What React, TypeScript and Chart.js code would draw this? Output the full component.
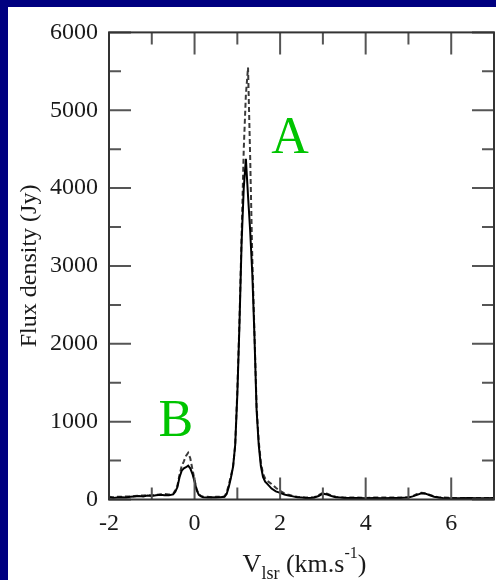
import React, { useEffect, useRef } from "react";
import { Chart, registerables } from "chart.js";

Chart.register(...registerables);

// ---- data ----
const velocities = [
  -2.0, -1.9, -1.8, -1.7, -1.6, -1.5, -1.4, -1.3, -1.2, -1.1,
  -1.0, -0.9, -0.8, -0.7, -0.6, -0.5, -0.45, -0.4, -0.35, -0.3,
  -0.25, -0.2, -0.15, -0.1, -0.05, 0.0, 0.05, 0.1, 0.15, 0.2,
  0.3, 0.4, 0.5, 0.6, 0.7, 0.75, 0.8, 0.85, 0.9, 0.95,
  1.0, 1.05, 1.1, 1.15, 1.2, 1.25, 1.3, 1.35, 1.4, 1.45,
  1.5, 1.55, 1.6, 1.65, 1.7, 1.8, 1.9, 2.0, 2.1, 2.2,
  2.3, 2.4, 2.5, 2.6, 2.7, 2.8, 2.9, 3.0, 3.1, 3.2,
  3.3, 3.4, 3.5, 3.6, 3.8, 4.0, 4.2, 4.4, 4.6, 4.8,
  5.0, 5.1, 5.2, 5.3, 5.4, 5.5, 5.6, 5.7, 5.8, 6.0,
  6.2, 6.4, 6.6, 6.8, 7.0,
];

const fluxSolid = [
  25, 20, 25, 30, 25, 35, 40, 45, 40, 50,
  45, 55, 60, 55, 55, 65, 100, 160, 290, 370,
  400, 415, 435, 400, 330, 230, 120, 60, 40, 30,
  25, 30, 25, 30, 35, 70, 160, 280, 420, 700,
  1350, 2250, 3300, 4000, 4375, 3900, 3450, 2900, 2100, 1150,
  700, 430, 290, 230, 200, 140, 105, 85, 65, 50,
  40, 30, 25, 20, 20, 25, 45, 75, 65, 45,
  30, 25, 20, 20, 20, 15, 20, 15, 20, 20,
  25, 40, 60, 80, 75, 55, 35, 25, 20, 15,
  15, 20, 15, 15, 20,
];

const fluxDashed = [
  35, 30, 35, 35, 40, 40, 45, 50, 50, 55,
  55, 60, 65, 70, 65, 75, 120, 180, 320, 430,
  490, 560, 600, 530, 390, 250, 130, 70, 45, 35,
  35, 30, 35, 35, 40, 90, 190, 300, 420, 700,
  1400, 2300, 3400, 4500, 5200, 5550, 4400, 3100, 2150, 1200,
  750, 480, 330, 270, 240, 200, 150, 110, 80, 60,
  45, 35, 30, 25, 25, 30, 55, 85, 75, 50,
  35, 30, 25, 25, 25, 20, 25, 25, 25, 25,
  30, 45, 70, 85, 80, 60, 40, 30, 25, 20,
  20, 20, 20, 20, 20,
];

const xTickValues = [-2, 0, 2, 4, 6];
const xMinorTicks = [-1, 1, 3, 5];
const yTickValues = [0, 1000, 2000, 3000, 4000, 5000, 6000];
const yMinorTicks = [500, 1500, 2500, 3500, 4500, 5500];

const peakLabels = ["A", "B"];
const peakLabelX = [1.79, -0.84];
const peakLabelY = [4447, 811];

const yTitle = "Flux density (Jy)";
const xTitleMain = "V";
const xTitleSub = "lsr";
const xTitleMid = " (km.s";
const xTitleSup = "-1";
const xTitleEnd = ")";

const SERIF = "'Liberation Serif', 'Times New Roman', serif";

const framePlugin = {
  id: "framePlugin",
  beforeDraw(chart: any) {
    const { ctx, width, height } = chart;
    ctx.save();
    ctx.fillStyle = "#ffffff";
    ctx.fillRect(0, 0, width, height);
    ctx.restore();
  },
  afterDatasetsDraw(chart: any) {
    const { ctx, chartArea: a, scales } = chart;
    const x = scales.x;
    const y = scales.y;
    ctx.save();
    ctx.strokeStyle = "#555555";
    ctx.lineWidth = 2;
    const major = 22;
    const minor = 12;
    const drawX = (v: number, len: number) => {
      const px = x.getPixelForValue(v);
      ctx.beginPath();
      ctx.moveTo(px, a.bottom);
      ctx.lineTo(px, a.bottom - len);
      ctx.moveTo(px, a.top);
      ctx.lineTo(px, a.top + len);
      ctx.stroke();
    };
    const drawY = (v: number, len: number) => {
      const py = y.getPixelForValue(v);
      ctx.beginPath();
      ctx.moveTo(a.left, py);
      ctx.lineTo(a.left + len, py);
      ctx.moveTo(a.right, py);
      ctx.lineTo(a.right - len, py);
      ctx.stroke();
    };
    x.ticks.forEach((t: any) => drawX(t.value, major));
    xMinorTicks.forEach((v) => drawX(v, minor));
    y.ticks.forEach((t: any) => drawY(t.value, major));
    yMinorTicks.forEach((v) => drawY(v, minor));
    ctx.strokeStyle = "#333333";
    ctx.lineWidth = 2;
    ctx.strokeRect(a.left, a.top, a.right - a.left, a.bottom - a.top);
    ctx.restore();
  },
  afterDraw(chart: any) {
    const { ctx, chartArea: a, scales } = chart;
    const x = scales.x;
    const y = scales.y;
    ctx.save();
    ctx.fillStyle = "#00c400";
    ctx.font = `52px ${SERIF}`;
    ctx.textAlign = "left";
    ctx.textBaseline = "alphabetic";
    peakLabels.forEach((lab, i) => {
      ctx.fillText(lab, x.getPixelForValue(peakLabelX[i]), y.getPixelForValue(peakLabelY[i]));
    });

    ctx.fillStyle = "#1a1a1a";
    ctx.save();
    ctx.translate(28, (a.top + a.bottom) / 2);
    ctx.rotate(-Math.PI / 2);
    ctx.font = `24px ${SERIF}`;
    ctx.textAlign = "center";
    ctx.textBaseline = "alphabetic";
    ctx.fillText(yTitle, 0, 0);
    ctx.restore();

    const mainFont = `26px ${SERIF}`;
    const subFont = `18px ${SERIF}`;
    const supFont = `16px ${SERIF}`;
    const parts = [
      { t: xTitleMain, f: mainFont, dy: 0 },
      { t: xTitleSub, f: subFont, dy: 7 },
      { t: xTitleMid, f: mainFont, dy: 0 },
      { t: xTitleSup, f: supFont, dy: -14 },
      { t: xTitleEnd, f: mainFont, dy: 0 },
    ];
    let total = 0;
    const widths = parts.map((p) => {
      ctx.font = p.f;
      const w = ctx.measureText(p.t).width;
      total += w;
      return w;
    });
    let cx = (a.left + a.right) / 2 - total / 2 + 3;
    const base = 565;
    ctx.textAlign = "left";
    ctx.textBaseline = "alphabetic";
    parts.forEach((p, i) => {
      ctx.font = p.f;
      ctx.fillText(p.t, cx, base + p.dy);
      cx += widths[i];
    });
    ctx.restore();
  },
};

export default function App() {
  const canvasRef = useRef<HTMLCanvasElement | null>(null);

  useEffect(() => {
    if (!canvasRef.current) return;
    const tickFont = { family: SERIF, size: 24 };
    const chart = new Chart(canvasRef.current, {
      type: "line",
      data: {
        datasets: [
          {
            label: "solid",
            data: velocities.map((v, i) => ({ x: v, y: fluxSolid[i] })),
            borderColor: "#000000",
            borderWidth: 2,
            pointRadius: 0,
            fill: false,
            tension: 0,
          },
          {
            label: "dashed",
            data: velocities.map((v, i) => ({ x: v, y: fluxDashed[i] })),
            borderColor: "#3a3a3a",
            borderDash: [5, 3],
            borderWidth: 2,
            pointRadius: 0,
            fill: false,
            tension: 0,
          },
        ],
      },
      options: {
        responsive: false,
        animation: false,
        layout: { padding: { top: 16, right: 2, left: 0, bottom: 0 } },
        plugins: {
          legend: { display: false },
          tooltip: { enabled: false },
        },
        scales: {
          x: {
            type: "linear",
            min: -2,
            max: 7,
            grid: { display: false, drawTicks: false },
            border: { display: false },
            afterBuildTicks: (s: any) => {
              s.ticks = xTickValues.map((v) => ({ value: v }));
            },
            afterFit: (s: any) => {
              s.height = 80.5;
            },
            ticks: {
              padding: 10,
              font: tickFont,
              color: "#1a1a1a",
              maxRotation: 0,
              autoSkip: false,
              callback: (v: any) => String(v),
            },
          },
          y: {
            type: "linear",
            min: 0,
            max: 6000,
            grid: { display: false, drawTicks: false },
            border: { display: false },
            afterBuildTicks: (s: any) => {
              s.ticks = yTickValues.map((v) => ({ value: v }));
            },
            afterFit: (s: any) => {
              s.width = 101;
            },
            ticks: {
              padding: 11,
              font: tickFont,
              color: "#1a1a1a",
              autoSkip: false,
              callback: (v: any) => String(v),
            },
          },
        },
      } as any,
      plugins: [framePlugin],
    });
    return () => chart.destroy();
  }, []);

  return (
    <div
      style={{
        position: "fixed",
        left: 0,
        top: 0,
        width: 496,
        height: 580,
        background: "#000080",
        overflow: "hidden",
      }}
    >
      <canvas
        ref={canvasRef}
        width={488}
        height={573}
        style={{ position: "absolute", left: 8, top: 7, display: "block" }}
      />
    </div>
  );
}
